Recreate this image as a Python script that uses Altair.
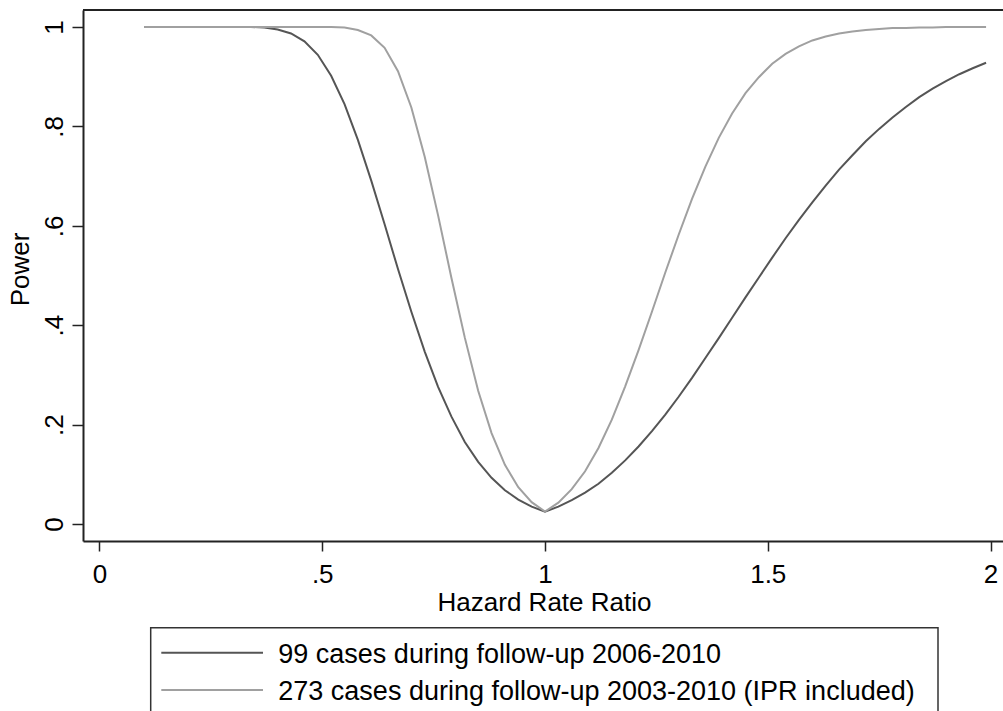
import altair as alt
import pandas as pd

# Hazard rate ratio grid (x) and read-off power values (y) for both curves
hazard_ratio = [0.10, 0.13, 0.16, 0.19, 0.22, 0.25, 0.28, 0.31, 0.34, 0.37,
                0.40, 0.43, 0.46, 0.49, 0.52, 0.55, 0.58, 0.61, 0.64, 0.67,
                0.70, 0.73, 0.76, 0.79, 0.82, 0.85, 0.88, 0.91, 0.94, 0.97,
                1.00, 1.03, 1.06, 1.09, 1.12, 1.15, 1.18, 1.21, 1.24, 1.27,
                1.30, 1.33, 1.36, 1.39, 1.42, 1.45, 1.48, 1.51, 1.54, 1.57,
                1.60, 1.63, 1.66, 1.69, 1.72, 1.75, 1.78, 1.81, 1.84, 1.87,
                1.90, 1.93, 1.96, 1.99]

power_99 = [1.000, 1.000, 1.000, 1.000, 1.000, 1.000, 1.000, 1.000, 1.000, 0.999,
            0.995, 0.987, 0.971, 0.944, 0.902, 0.845, 0.773, 0.691, 0.603, 0.513,
            0.427, 0.347, 0.276, 0.216, 0.165, 0.125, 0.093, 0.068, 0.049, 0.035,
            0.025, 0.035, 0.048, 0.063, 0.081, 0.103, 0.128, 0.156, 0.187, 0.220,
            0.256, 0.294, 0.334, 0.374, 0.415, 0.456, 0.496, 0.536, 0.575, 0.612,
            0.647, 0.681, 0.713, 0.742, 0.770, 0.795, 0.818, 0.839, 0.859, 0.876,
            0.891, 0.905, 0.917, 0.928]

power_273 = [1.000, 1.000, 1.000, 1.000, 1.000, 1.000, 1.000, 1.000, 1.000, 1.000,
             1.000, 1.000, 1.000, 1.000, 1.000, 0.999, 0.994, 0.983, 0.958, 0.911,
             0.838, 0.739, 0.621, 0.495, 0.375, 0.268, 0.183, 0.119, 0.074, 0.044,
             0.025, 0.043, 0.070, 0.106, 0.153, 0.210, 0.277, 0.350, 0.427, 0.506,
             0.582, 0.654, 0.719, 0.777, 0.826, 0.867, 0.899, 0.926, 0.946, 0.961,
             0.973, 0.981, 0.987, 0.991, 0.994, 0.996, 0.998, 0.998, 0.999, 0.999,
             1.000, 1.000, 1.000, 1.000]

series_labels = ["99 cases during follow-up 2006-2010",
                 "273 cases during follow-up 2003-2010 (IPR included)"]
series_colors = ["#555555", "#a0a0a0"]
x_ticks = [0, 0.5, 1, 1.5, 2]
y_ticks = [0, 0.2, 0.4, 0.6, 0.8, 1]

rows = []
for name, vals in zip(series_labels, [power_99, power_273]):
    for h, p in zip(hazard_ratio, vals):
        rows.append({"hr": h, "power": p, "series": name})
df = pd.DataFrame(rows)

W, H = 920, 531
FONT = "Liberation Sans"
AXIS_COLOR = "#222222"
LABEL_EXPR = "substring(datum.label, 0, 2) == '0.' ? substring(datum.label, 1) : datum.label"

lines = alt.Chart(df).mark_line(strokeWidth=2).encode(
    x=alt.X("hr:Q",
            scale=alt.Scale(domain=[-0.037, 2.028], nice=False, zero=False),
            axis=alt.Axis(values=x_ticks, format="~g", labelExpr=LABEL_EXPR,
                          title="Hazard Rate Ratio", grid=False,
                          tickSize=10, labelPadding=10, labelFlush=False,
                          labelOverlap=False, labelAngle=0,
                          titleX=461, titleY=69, titleAlign="center",
                          titleBaseline="alphabetic", titleAngle=0)),
    y=alt.Y("power:Q",
            scale=alt.Scale(domain=[-0.0342, 1.0342], nice=False, zero=False),
            axis=alt.Axis(values=y_ticks, format="~g", labelExpr=LABEL_EXPR,
                          title="Power", grid=False,
                          tickSize=11, labelPadding=10, labelFlush=False,
                          labelOverlap=False, labelAngle=270,
                          labelAlign="center", labelBaseline="alphabetic",
                          titleAngle=270, titleX=-55, titleY=259,
                          titleAlign="center", titleBaseline="alphabetic")),
    color=alt.Color("series:N",
                    scale=alt.Scale(domain=series_labels, range=series_colors),
                    legend=None),
)

one = pd.DataFrame({"a": [0]})

top_border = alt.Chart(one).mark_rule(color=AXIS_COLOR, strokeWidth=2).encode(
    x=alt.value(0), x2=alt.value(W), y=alt.value(0))

legend_box = alt.Chart(one).mark_rect(fill="white", stroke="#333333", strokeWidth=1.5).encode(
    x=alt.value(67.7), x2=alt.value(855), y=alt.value(617.7), y2=alt.value(740))

legend_layers = [legend_box]
for i, (lab, col) in enumerate(zip(series_labels, series_colors)):
    ly = 642.7 + 37.3 * i
    legend_layers.append(
        alt.Chart(one).mark_rule(color=col, strokeWidth=2).encode(
            x=alt.value(78.3), x2=alt.value(180), y=alt.value(ly)))
    legend_layers.append(
        alt.Chart(one).mark_text(align="left", baseline="alphabetic", fontSize=27,
                                 font=FONT, color="black").encode(
            x=alt.value(195.3), y=alt.value(ly + 10.3), text=alt.value(lab)))

chart = alt.layer(lines, top_border, *legend_layers).properties(
    width=W, height=H,
    autosize=alt.AutoSizeParams(type="none"),
    padding={"left": 83, "top": 10, "right": 0, "bottom": 170},
    background="white",
).configure_view(
    stroke="transparent", strokeWidth=0
).configure_axis(
    labelFont=FONT, labelFontSize=26, labelColor="black",
    titleFont=FONT, titleFontSize=26, titleFontWeight="normal", titleColor="black",
    domainColor=AXIS_COLOR, domainWidth=2, tickColor=AXIS_COLOR, tickWidth=1.5,
)

chart.save("out.html", embed_options={"renderer": "svg", "actions": False})
